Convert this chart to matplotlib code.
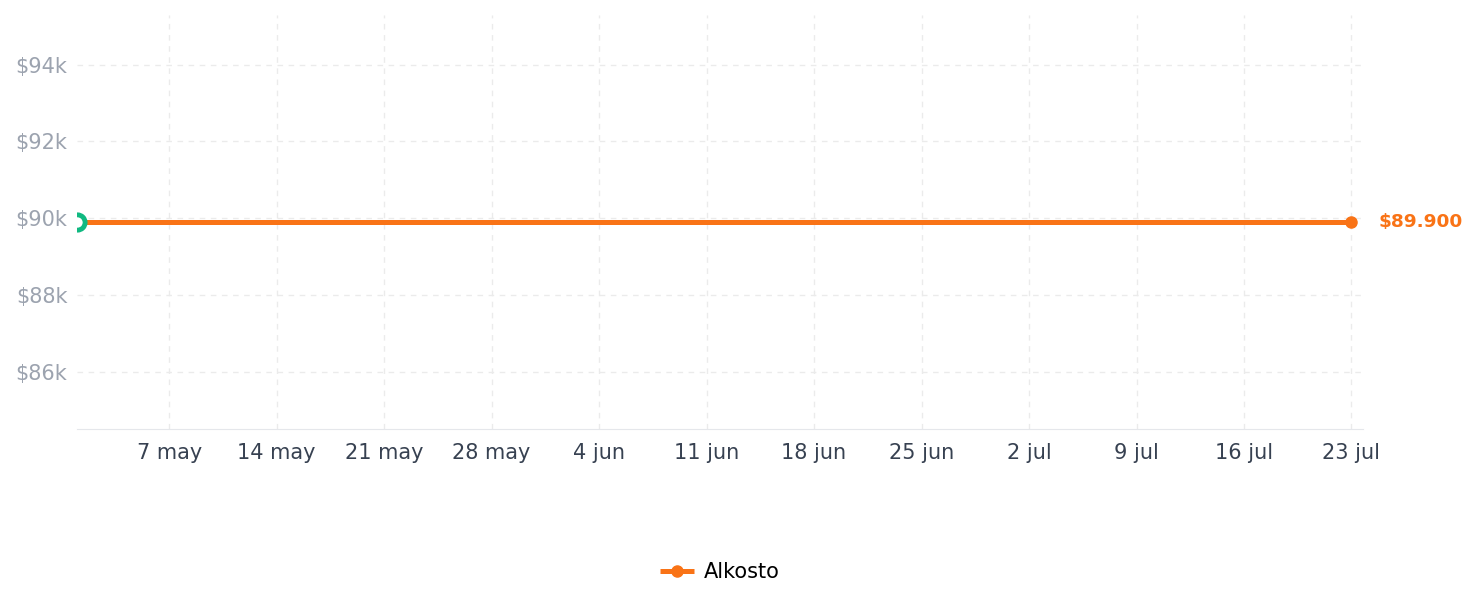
import matplotlib
matplotlib.use("Agg")
import matplotlib.pyplot as plt
import pandas as pd

# Data
dates = pd.to_datetime(["2024-05-01", "2024-07-23"])
prices = [89900, 89900]
store = "Alkosto"
tick_dates = pd.date_range("2024-05-07", "2024-07-23", freq="7D")
months_es = ["ene", "feb", "mar", "abr", "may", "jun", "jul", "ago", "sep", "oct", "nov", "dic"]
y_ticks = [86000, 88000, 90000, 92000, 94000]

orange = "#f97316"
green = "#10b981"

fig = plt.figure(figsize=(14.79, 6.07), dpi=100)
ax = fig.add_axes([77 / 1479, 1 - 429 / 607, (1363 - 77) / 1479, (429 - 15) / 607])

ax.plot(dates, prices, color=orange, lw=3.6, solid_capstyle="butt", label=store,
        marker="o", markevery=[1], markersize=8, zorder=3)
ax.plot(dates[:1], prices[:1], "o", markersize=11, markerfacecolor="white",
        markeredgecolor=green, markeredgewidth=3.5, zorder=4)

ax.annotate(f"${prices[-1]:,}".replace(",", "."), (dates[-1], prices[-1]),
            xytext=(19.5, 0), textcoords="offset points", ha="left", va="center",
            color=orange, fontsize=13.3, fontweight="bold", annotation_clip=False)

ax.set_xlim(dates[0], dates[-1] + pd.Timedelta(days=0.75))
ax.set_ylim(89900 * 0.94, 89900 * 1.06)

ax.set_xticks(tick_dates)
ax.set_xticklabels([f"{d.day} {months_es[d.month - 1]}" for d in tick_dates])
ax.set_yticks(y_ticks)
ax.set_yticklabels([f"${v // 1000}k" for v in y_ticks])

ax.tick_params(axis="x", length=0, pad=10, labelsize=15, labelcolor="#374151")
ax.tick_params(axis="y", length=0, pad=7, labelsize=15, labelcolor="#9ca3af")

ax.grid(True, color="#ebebeb", linestyle=(0, (4, 4)), lw=1)
ax.set_axisbelow(True)
for s in ["top", "right", "left"]:
    ax.spines[s].set_visible(False)
ax.spines["bottom"].set_color("#e5e7eb")

handles, labels = ax.get_legend_handles_labels()
leg = fig.legend(handles[:1], labels[:1], loc="center", bbox_to_anchor=(720 / 1479, 1 - 572 / 607),
                 frameon=False, fontsize=15, handlelength=1.6, handletextpad=0.5)

fig.savefig("out.png", dpi=100)
